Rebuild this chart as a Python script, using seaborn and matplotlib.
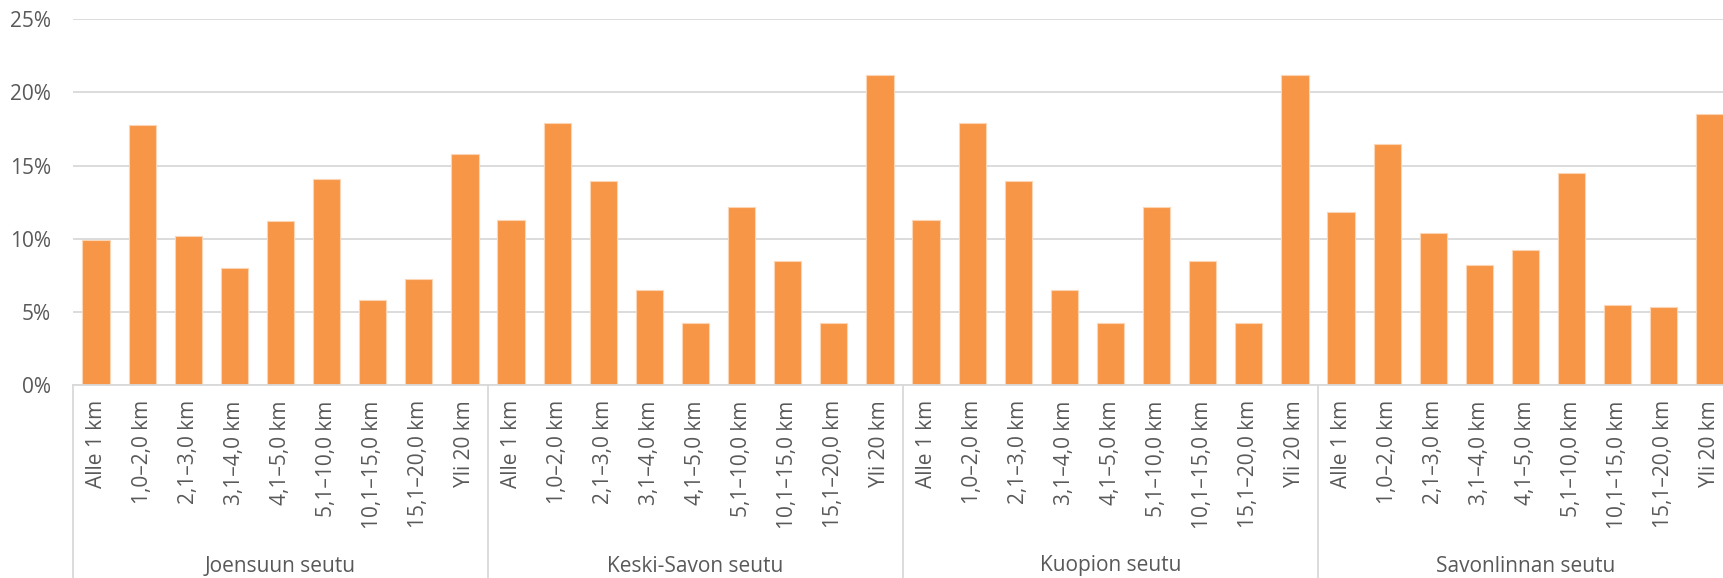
import pandas as pd
import matplotlib.pyplot as plt
import seaborn as sns
from matplotlib.lines import Line2D
from matplotlib.transforms import blended_transform_factory
from matplotlib.ticker import FuncFormatter

regions = ['Joensuun seutu', 'Keski-Savon seutu', 'Kuopion seutu', 'Savonlinnan seutu']
distances = ['Alle 1 km', '1,0–2,0 km', '2,1–3,0 km', '3,1–4,0 km', '4,1–5,0 km',
             '5,1–10,0 km', '10,1–15,0 km', '15,1–20,0 km', 'Yli 20 km']

joensuu = [9.9, 17.74, 10.17, 7.98, 11.22, 14.11, 5.84, 7.23, 15.78]
keski_savo = [11.26, 17.92, 13.95, 6.52, 4.22, 12.2, 8.48, 4.26, 21.18]
kuopio = [11.26, 17.92, 13.95, 6.52, 4.22, 12.2, 8.48, 4.26, 21.18]
savonlinna = [11.83, 16.48, 10.37, 8.19, 9.21, 14.5, 5.49, 5.36, 18.51]

rows = []
for reg, vals in zip(regions, [joensuu, keski_savo, kuopio, savonlinna]):
    for d, v in zip(distances, vals):
        rows.append({'key': reg + '|' + d, 'region': reg, 'distance': d, 'share': v})
data = pd.DataFrame(rows)

sns.set_style('white')
plt.rcParams['font.family'] = ['Open Sans', 'DejaVu Sans']
grey = '#595959'
line_col = '#D9D9D9'

fig = plt.figure(figsize=(17.23, 5.78), dpi=100)
W, H = 1723, 578
ax = fig.add_axes([73 / W, 1 - 385 / H, (1733 - 73) / W, (385 - 19.3) / H])

sns.barplot(data=data, x='key', y='share', order=list(data['key']), color='#F79646',
            saturation=1, width=0.59, edgecolor='#FCD5B5', linewidth=0.8, ax=ax)

ax.set_ylim(0, 25)
ax.set_xlim(-0.5, len(data) - 0.5)
ax.set_yticks([0, 5, 10, 15, 20, 25])
ax.yaxis.set_major_formatter(FuncFormatter(lambda v, p: f'{v:.0f}%'))
ax.grid(True, axis='y', color=line_col, linewidth=1.3)
ax.set_axisbelow(True)
for s in ['top', 'right', 'left']:
    ax.spines[s].set_visible(False)
ax.spines['bottom'].set_color(line_col)
ax.spines['bottom'].set_linewidth(1.3)
ax.set_xlabel('')
ax.set_ylabel('')
ax.set_xticks(range(len(data)))
ax.set_xticklabels(data['distance'], rotation=90, va='top', ha='center')
ax.tick_params(axis='x', length=0, pad=11, labelsize=15, labelcolor=grey)
ax.tick_params(axis='y', length=0, pad=16, labelsize=15, labelcolor=grey)

# group separators and group labels
trans = blended_transform_factory(ax.transData, fig.transFigure)
y0 = 1 - 385 / H
n = len(distances)
for i in range(len(regions) + 1):
    x = i * n - 0.5
    fig.add_artist(Line2D([x, x], [0, y0], transform=trans, color=line_col, linewidth=1.3))
for i, reg in enumerate(regions):
    fig.text(i * n + (n - 1) / 2, 1 - 566 / H, reg, transform=trans, ha='center', va='center',
             fontsize=15, color=grey)

fig.savefig('out.png', dpi=100)
plt.close(fig)
